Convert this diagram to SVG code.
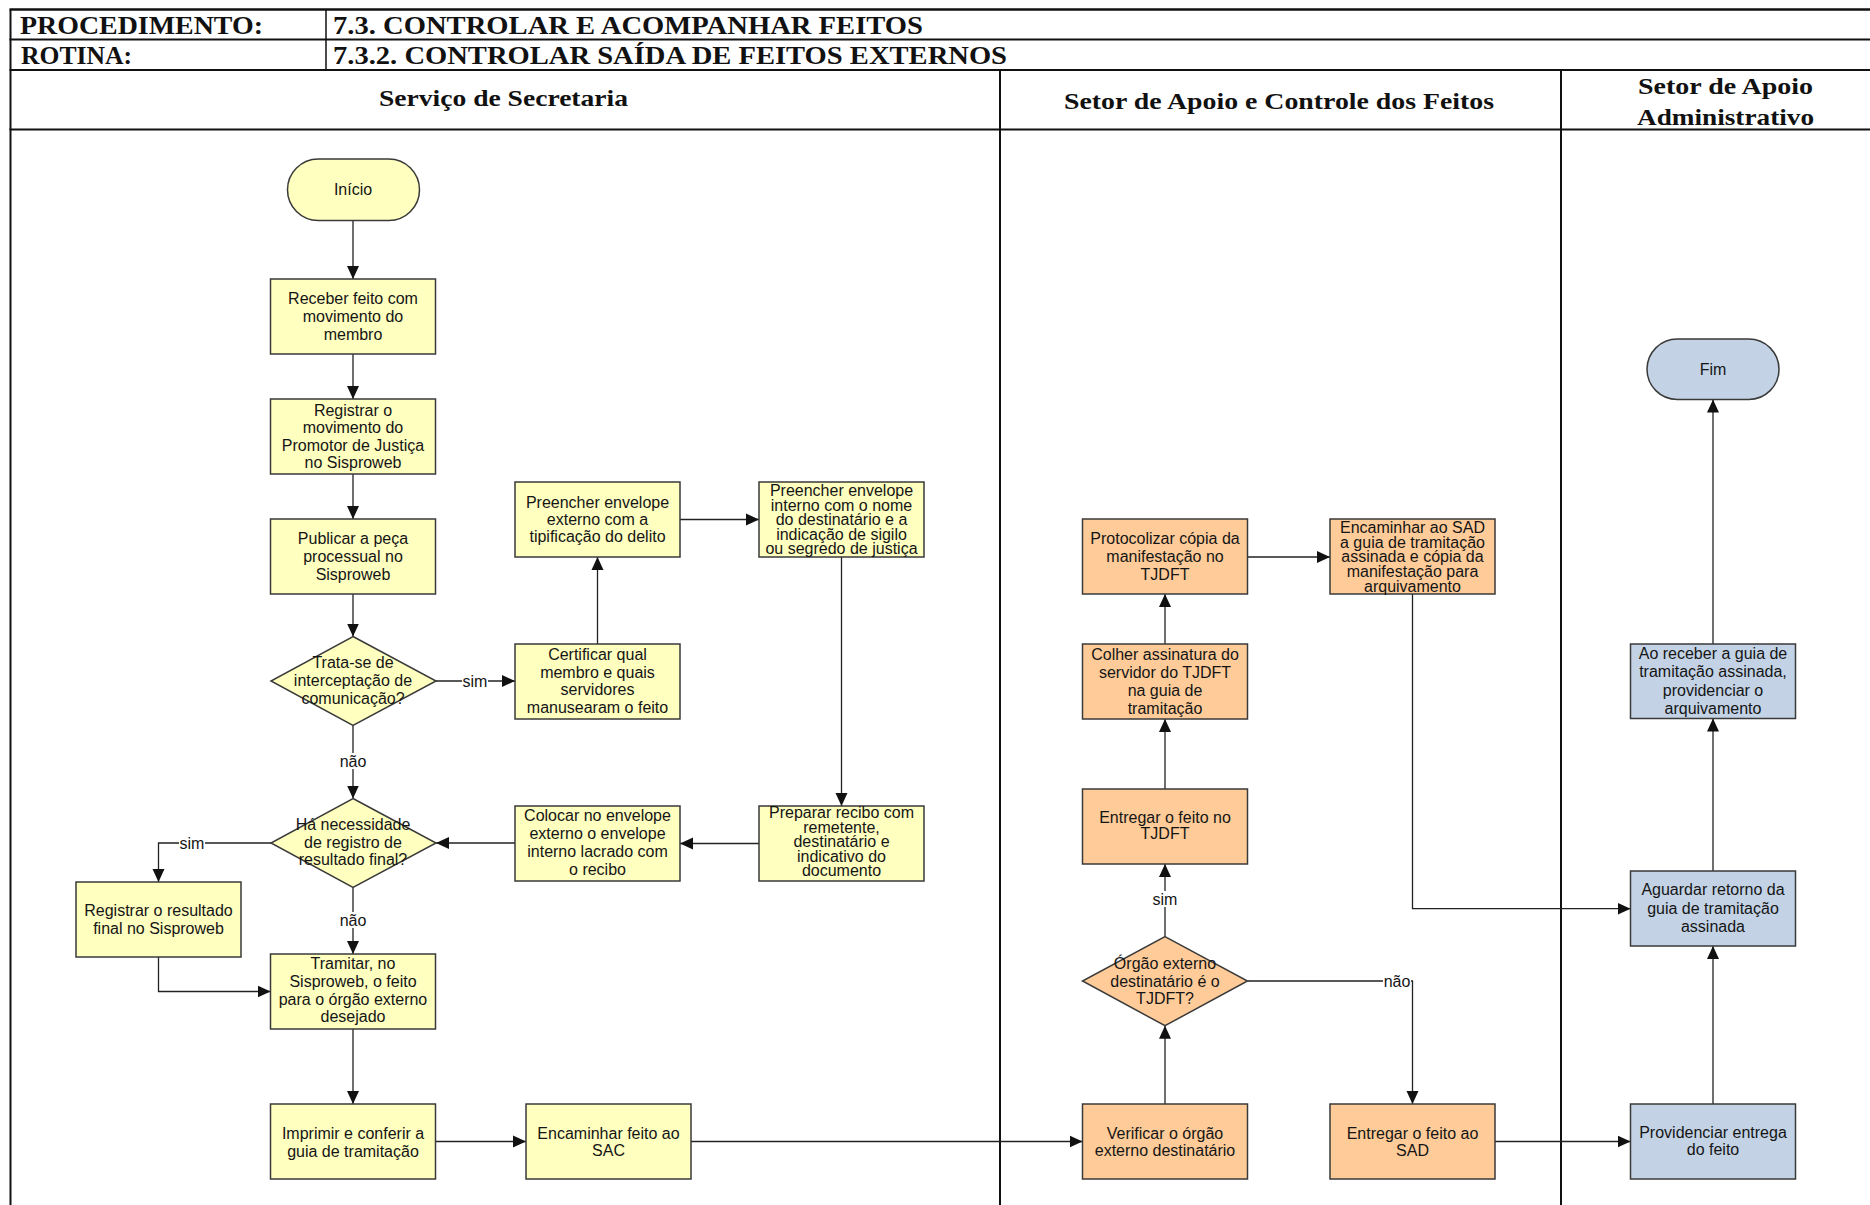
<svg xmlns="http://www.w3.org/2000/svg" width="1870" height="1205" viewBox="0 0 1870 1205">
  <defs>
    <marker id="arrow" markerUnits="userSpaceOnUse" markerWidth="14" markerHeight="13" refX="13" refY="6.5" orient="auto">
      <path d="M0,0.5 L13,6.5 L0,12.5 z" fill="#111"/>
    </marker>
    <style>
      .frame { stroke: #111; stroke-width: 2; fill: none; }
      .hdr { font-family: "Liberation Serif", "Times New Roman", serif; font-weight: bold; fill: #111; }
      .lane { font-size: 24px; }
      .ttl { font-size: 25px; }
      .box { stroke: #3a3a3a; stroke-width: 1.5; }
      .yel { fill: #FFFFC0; }
      .org { fill: #FFCC99; }
      .blu { fill: #C3D3E5; }
      .txt { font-family: "Liberation Sans", Arial, sans-serif; font-size: 16px; fill: #151515; text-anchor: middle; }
      .conn path { stroke: #222; stroke-width: 1.3; fill: none; marker-end: url(#arrow); }
      .lbl rect { fill: #fff; }
      .lbl text { font-family: "Liberation Sans", Arial, sans-serif; font-size: 16px; fill: #151515; text-anchor: middle; }
    </style>
  </defs>

  <rect width="1870" height="1205" fill="#fff"/>

  <!-- table frame and swimlanes -->
  <g id="frame">
    <line class="frame" x1="9.5" y1="9.5" x2="1870" y2="9.5" style="stroke-width:2.5"/>
    <line class="frame" x1="9.5" y1="39.5" x2="1870" y2="39.5"/>
    <line class="frame" x1="9.5" y1="70" x2="1870" y2="70"/>
    <line class="frame" x1="9.5" y1="129.5" x2="1870" y2="129.5"/>
    <line class="frame" x1="10.5" y1="9.5" x2="10.5" y2="1205"/>
    <line class="frame" x1="326" y1="9.5" x2="326" y2="70" style="stroke-width:1.5"/>
    <line class="frame" x1="1000" y1="70" x2="1000" y2="1205"/>
    <line class="frame" x1="1561" y1="70" x2="1561" y2="1205"/>

    <text class="hdr ttl" x="20" y="34" textLength="243" lengthAdjust="spacingAndGlyphs">PROCEDIMENTO:</text>
    <text class="hdr ttl" x="333" y="34" textLength="590" lengthAdjust="spacingAndGlyphs">7.3. CONTROLAR E ACOMPANHAR FEITOS</text>
    <text class="hdr ttl" x="21" y="64" textLength="111" lengthAdjust="spacingAndGlyphs">ROTINA:</text>
    <text class="hdr ttl" x="333" y="64" textLength="674" lengthAdjust="spacingAndGlyphs">7.3.2. CONTROLAR SAÍDA DE FEITOS EXTERNOS</text>

    <text class="hdr lane" x="379" y="106" textLength="249" lengthAdjust="spacingAndGlyphs">Serviço de Secretaria</text>
    <text class="hdr lane" x="1064" y="109" textLength="430" lengthAdjust="spacingAndGlyphs">Setor de Apoio e Controle dos Feitos</text>
    <text class="hdr lane" x="1638" y="94" textLength="175" lengthAdjust="spacingAndGlyphs">Setor de Apoio</text>
    <text class="hdr lane" x="1637" y="125" textLength="177" lengthAdjust="spacingAndGlyphs">Administrativo</text>
  </g>

  <!-- connectors -->
  <g id="connectors" class="conn">
    <path d="M353,220.5 V279"/>
    <path d="M353,354 V399"/>
    <path d="M353,474 V519"/>
    <path d="M353,594 V636.5"/>
    <path d="M436,681 H515"/>
    <path d="M597.5,644 V557"/>
    <path d="M680,519.5 H759"/>
    <path d="M841.5,557 V806"/>
    <path d="M759,843.5 H680"/>
    <path d="M515,843 H436"/>
    <path d="M353,725.5 V798.5"/>
    <path d="M271,843 H158.5 V882"/>
    <path d="M353,887.5 V954"/>
    <path d="M158.5,957 V991.5 H270.5"/>
    <path d="M353,1029 V1104"/>
    <path d="M435.5,1141.5 H526"/>
    <path d="M691,1141.5 H1082.5"/>
    <path d="M1165,1104 V1025.7"/>
    <path d="M1165,936.7 V864"/>
    <path d="M1165,789 V719"/>
    <path d="M1165,644 V594"/>
    <path d="M1247.5,557 H1330"/>
    <path d="M1247.5,981 H1412.5 V1104"/>
    <path d="M1412.5,594 V908.7 H1630.5"/>
    <path d="M1495,1141.5 H1630.5"/>
    <path d="M1713,1104 V946"/>
    <path d="M1713,871 V718.5"/>
    <path d="M1713,644 V399.5"/>
  </g>

  <!-- connector labels -->
  <g id="labels" class="lbl">
    <rect x="462" y="673" width="26" height="16"/><text x="475" y="686.5">sim</text>
    <rect x="339" y="753" width="28" height="16"/><text x="353" y="767">não</text>
    <rect x="179" y="835" width="26" height="16"/><text x="192" y="848.5">sim</text>
    <rect x="339" y="912" width="28" height="16"/><text x="353" y="925.5">não</text>
    <rect x="1152" y="891" width="26" height="16"/><text x="1165" y="904.5">sim</text>
    <rect x="1383" y="973" width="28" height="16"/><text x="1397" y="986.5">não</text>
  </g>

  <!-- Serviço de Secretaria -->
  <g id="inicio">
    <rect class="box yel" x="287.5" y="159" width="132" height="61.5" rx="30.75"/>
    <text class="txt" x="353" y="195">Início</text>
  </g>
  <g id="receber">
    <rect class="box yel" x="270.5" y="279" width="165" height="75"/>
    <text class="txt"><tspan x="353" y="304">Receber feito com</tspan><tspan x="353" y="322">movimento do</tspan><tspan x="353" y="340">membro</tspan></text>
  </g>
  <g id="registrar-movimento">
    <rect class="box yel" x="270.5" y="399" width="165" height="75"/>
    <text class="txt"><tspan x="353" y="415.8">Registrar o</tspan><tspan x="353" y="433.3">movimento do</tspan><tspan x="353" y="450.8">Promotor de Justiça</tspan><tspan x="353" y="468.3">no Sisproweb</tspan></text>
  </g>
  <g id="publicar">
    <rect class="box yel" x="270.5" y="519" width="165" height="75"/>
    <text class="txt"><tspan x="353" y="543.8">Publicar a peça</tspan><tspan x="353" y="561.8">processual no</tspan><tspan x="353" y="579.8">Sisproweb</tspan></text>
  </g>
  <g id="decisao-interceptacao">
    <polygon class="box yel" points="353,636.5 436,681 353,725.5 271,681"/>
    <text class="txt"><tspan x="353" y="667.5">Trata-se de</tspan><tspan x="353" y="685.5">interceptação de</tspan><tspan x="353" y="703.5">comunicação?</tspan></text>
  </g>
  <g id="certificar">
    <rect class="box yel" x="515" y="644" width="165" height="75"/>
    <text class="txt"><tspan x="597.5" y="659.8">Certificar qual</tspan><tspan x="597.5" y="677.6">membro e quais</tspan><tspan x="597.5" y="695.4">servidores</tspan><tspan x="597.5" y="713.2">manusearam o feito</tspan></text>
  </g>
  <g id="envelope-externo">
    <rect class="box yel" x="515" y="482" width="165" height="75"/>
    <text class="txt"><tspan x="597.5" y="508">Preencher envelope</tspan><tspan x="597.5" y="525">externo com a</tspan><tspan x="597.5" y="542">tipificação do delito</tspan></text>
  </g>
  <g id="envelope-interno">
    <rect class="box yel" x="759" y="482" width="165" height="75"/>
    <text class="txt"><tspan x="841.5" y="496">Preencher envelope</tspan><tspan x="841.5" y="510.5">interno com o nome</tspan><tspan x="841.5" y="525">do destinatário e a</tspan><tspan x="841.5" y="539.5">indicação de sigilo</tspan><tspan x="841.5" y="554">ou segredo de justiça</tspan></text>
  </g>
  <g id="preparar-recibo">
    <rect class="box yel" x="759" y="806" width="165" height="75"/>
    <text class="txt"><tspan x="841.5" y="818">Preparar recibo com</tspan><tspan x="841.5" y="832.6">remetente,</tspan><tspan x="841.5" y="847.2">destinatário e</tspan><tspan x="841.5" y="861.8">indicativo do</tspan><tspan x="841.5" y="876.4">documento</tspan></text>
  </g>
  <g id="colocar-envelope">
    <rect class="box yel" x="515" y="806" width="165" height="75"/>
    <text class="txt"><tspan x="597.5" y="821">Colocar no envelope</tspan><tspan x="597.5" y="839">externo o envelope</tspan><tspan x="597.5" y="857">interno lacrado com</tspan><tspan x="597.5" y="875">o recibo</tspan></text>
  </g>
  <g id="decisao-resultado">
    <polygon class="box yel" points="353,798.5 436,843 353,887.5 271,843"/>
    <text class="txt"><tspan x="353" y="829.5">Há necessidade</tspan><tspan x="353" y="847.5">de registro de</tspan><tspan x="353" y="864.5">resultado final?</tspan></text>
  </g>
  <g id="registrar-resultado">
    <rect class="box yel" x="76" y="882" width="165" height="75"/>
    <text class="txt"><tspan x="158.5" y="916">Registrar o resultado</tspan><tspan x="158.5" y="934">final no Sisproweb</tspan></text>
  </g>
  <g id="tramitar">
    <rect class="box yel" x="270.5" y="954" width="165" height="75"/>
    <text class="txt"><tspan x="353" y="969">Tramitar, no</tspan><tspan x="353" y="986.8">Sisproweb, o feito</tspan><tspan x="353" y="1004.5">para o órgão externo</tspan><tspan x="353" y="1022.2">desejado</tspan></text>
  </g>
  <g id="imprimir">
    <rect class="box yel" x="270.5" y="1104" width="165" height="75"/>
    <text class="txt"><tspan x="353" y="1138.8">Imprimir e conferir a</tspan><tspan x="353" y="1156.8">guia de tramitação</tspan></text>
  </g>
  <g id="encaminhar-sac">
    <rect class="box yel" x="526" y="1104" width="165" height="75"/>
    <text class="txt"><tspan x="608.5" y="1138.8">Encaminhar feito ao</tspan><tspan x="608.5" y="1155.8">SAC</tspan></text>
  </g>

  <!-- Setor de Apoio e Controle dos Feitos -->
  <g id="verificar">
    <rect class="box org" x="1082.5" y="1104" width="165" height="75"/>
    <text class="txt"><tspan x="1165" y="1138.8">Verificar o órgão</tspan><tspan x="1165" y="1155.5">externo destinatário</tspan></text>
  </g>
  <g id="decisao-tjdft">
    <polygon class="box org" points="1165,936.7 1247.5,981 1165,1025.7 1082.5,981"/>
    <text class="txt"><tspan x="1165" y="968.8">Órgão externo</tspan><tspan x="1165" y="986.5">destinatário é o</tspan><tspan x="1165" y="1004.2">TJDFT?</tspan></text>
  </g>
  <g id="entregar-tjdft">
    <rect class="box org" x="1082.5" y="789" width="165" height="75"/>
    <text class="txt"><tspan x="1165" y="822.8">Entregar o feito no</tspan><tspan x="1165" y="838.8">TJDFT</tspan></text>
  </g>
  <g id="colher-assinatura">
    <rect class="box org" x="1082.5" y="644" width="165" height="75"/>
    <text class="txt"><tspan x="1165" y="659.5">Colher assinatura do</tspan><tspan x="1165" y="677.5">servidor do TJDFT</tspan><tspan x="1165" y="695.5">na guia de</tspan><tspan x="1165" y="713.5">tramitação</tspan></text>
  </g>
  <g id="protocolizar">
    <rect class="box org" x="1082.5" y="519" width="165" height="75"/>
    <text class="txt"><tspan x="1165" y="544.2">Protocolizar cópia da</tspan><tspan x="1165" y="562.2">manifestação no</tspan><tspan x="1165" y="580.2">TJDFT</tspan></text>
  </g>
  <g id="encaminhar-sad">
    <rect class="box org" x="1330" y="519" width="165" height="75"/>
    <text class="txt"><tspan x="1412.5" y="532.8">Encaminhar ao SAD</tspan><tspan x="1412.5" y="547.5">a guia de tramitação</tspan><tspan x="1412.5" y="562.2">assinada e cópia da</tspan><tspan x="1412.5" y="576.9">manifestação para</tspan><tspan x="1412.5" y="591.6">arquivamento</tspan></text>
  </g>
  <g id="entregar-sad">
    <rect class="box org" x="1330" y="1104" width="165" height="75"/>
    <text class="txt"><tspan x="1412.5" y="1138.8">Entregar o feito ao</tspan><tspan x="1412.5" y="1155.5">SAD</tspan></text>
  </g>

  <!-- Setor de Apoio Administrativo -->
  <g id="providenciar-entrega">
    <rect class="box blu" x="1630.5" y="1104" width="165" height="75"/>
    <text class="txt"><tspan x="1713" y="1138.2">Providenciar entrega</tspan><tspan x="1713" y="1155">do feito</tspan></text>
  </g>
  <g id="aguardar-retorno">
    <rect class="box blu" x="1630.5" y="871" width="165" height="75"/>
    <text class="txt"><tspan x="1713" y="895.2">Aguardar retorno da</tspan><tspan x="1713" y="913.5">guia de tramitação</tspan><tspan x="1713" y="931.5">assinada</tspan></text>
  </g>
  <g id="arquivamento">
    <rect class="box blu" x="1630.5" y="644" width="165" height="74.5"/>
    <text class="txt"><tspan x="1713" y="658.5">Ao receber a guia de</tspan><tspan x="1713" y="676.5">tramitação assinada,</tspan><tspan x="1713" y="695.5">providenciar o</tspan><tspan x="1713" y="713.5">arquivamento</tspan></text>
  </g>
  <g id="fim">
    <rect class="box blu" x="1647" y="339" width="132" height="60.5" rx="30.25"/>
    <text class="txt" x="1713" y="374.5">Fim</text>
  </g>
</svg>
